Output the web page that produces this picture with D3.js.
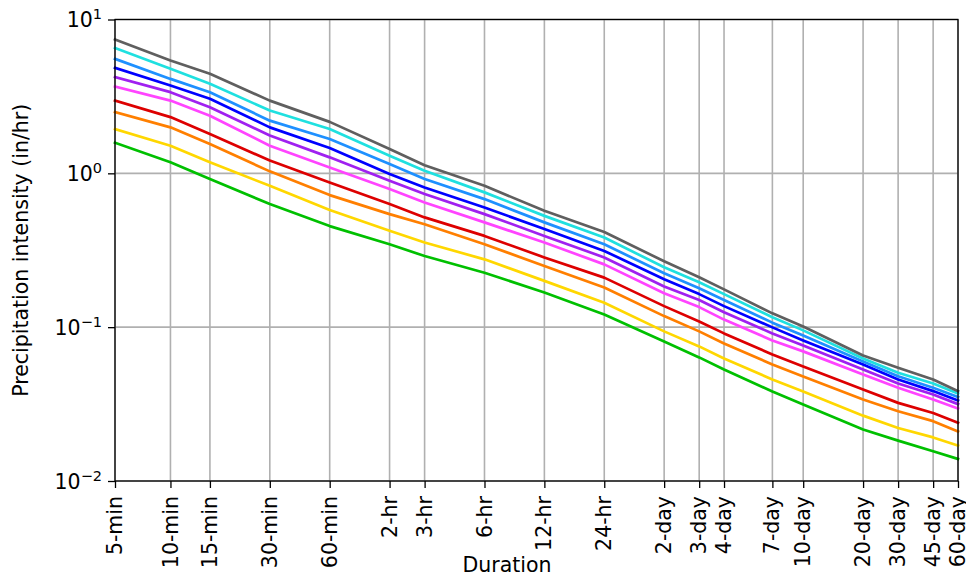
<!DOCTYPE html>
<html>
<head>
<meta charset="utf-8">
<script src="https://cdn.jsdelivr.net/npm/d3@7"></script>
<style>
  body { margin: 0; background: #fff; }
  svg text { font-family: "DejaVu Sans", sans-serif; fill: #000; }
</style>
</head>
<body>
<div id="chart"></div>
<script>
// durations (minutes) and their tick labels
var durations = [5, 9.5, 15, 30, 60, 120, 180, 360, 720, 1440, 2880, 4320, 5760, 10080, 14400, 28800, 43200, 64800, 86400];
var durLabels = ["5-min", "10-min", "15-min", "30-min", "60-min", "2-hr", "3-hr", "6-hr", "12-hr", "24-hr",
	"2-day", "3-day", "4-day", "7-day", "10-day", "20-day", "30-day", "45-day", "60-day"];

// precipitation intensity (in/hr), one array per curve, lowest first
var ari1 = [1.58, 1.18, 0.918, 0.631, 0.454, 0.346, 0.290, 0.226, 0.168, 0.121, 0.0808, 0.0636, 0.0531, 0.0382, 0.0314, 0.0216, 0.0183, 0.0156, 0.0139];
var ari2 = [1.94, 1.51, 1.18, 0.830, 0.577, 0.423, 0.355, 0.276, 0.200, 0.144, 0.0939, 0.0750, 0.0626, 0.0457, 0.0382, 0.0266, 0.0221, 0.0192, 0.0170];
var ari5 = [2.50, 1.99, 1.55, 1.03, 0.722, 0.543, 0.467, 0.346, 0.250, 0.181, 0.118, 0.0939, 0.0784, 0.0572, 0.0478, 0.0339, 0.0284, 0.0245, 0.0210];
var ari10 = [2.97, 2.32, 1.80, 1.21, 0.871, 0.631, 0.517, 0.392, 0.284, 0.210, 0.137, 0.109, 0.0911, 0.0665, 0.0555, 0.0393, 0.0322, 0.0277, 0.0239];
var ari25 = [3.67, 2.97, 2.37, 1.51, 1.09, 0.790, 0.647, 0.480, 0.355, 0.256, 0.166, 0.135, 0.112, 0.0820, 0.0696, 0.0493, 0.0404, 0.0339, 0.0296];
var ari50 = [4.22, 3.37, 2.69, 1.76, 1.27, 0.895, 0.733, 0.543, 0.392, 0.284, 0.184, 0.150, 0.125, 0.0911, 0.0761, 0.0531, 0.0430, 0.0365, 0.0316];
var ari100 = [4.85, 3.72, 3.05, 1.99, 1.46, 0.990, 0.810, 0.600, 0.434, 0.313, 0.205, 0.164, 0.137, 0.0997, 0.0820, 0.0572, 0.0457, 0.0384, 0.0333];
var ari200 = [5.55, 4.11, 3.37, 2.20, 1.67, 1.15, 0.918, 0.680, 0.480, 0.346, 0.224, 0.179, 0.150, 0.107, 0.0884, 0.0599, 0.0480, 0.0404, 0.0351];
var ari500 = [6.52, 4.78, 3.82, 2.56, 1.94, 1.30, 1.04, 0.752, 0.529, 0.383, 0.245, 0.196, 0.164, 0.116, 0.0953, 0.0626, 0.0505, 0.0430, 0.0370];
var ari1000 = [7.42, 5.41, 4.44, 2.97, 2.16, 1.44, 1.13, 0.830, 0.571, 0.416, 0.268, 0.211, 0.176, 0.123, 0.101, 0.0655, 0.0545, 0.0457, 0.0384];

var seriesList = [ari1, ari2, ari5, ari10, ari25, ari50, ari100, ari200, ari500, ari1000];
var colors = ["#00c000", "#ffd700", "#ff7f00", "#dd0000", "#ff44ff", "#a020f0", "#0000ff", "#1e90ff", "#1fe0e0", "#5f5f5f"];

var yTicks = [0.01, 0.1, 1, 10];

var svgWidth = 966;
var svgHeight = 582;
var margin = { top: 19.5, right: 8, bottom: 101, left: 115 };
var width = svgWidth - margin.left - margin.right;
var height = svgHeight - margin.top - margin.bottom;

var svg = d3.select("#chart")
	.append("svg")
	.attr("width", svgWidth)
	.attr("height", svgHeight);

var chartGroup = svg.append("g")
	.attr("transform", `translate(${margin.left}, ${margin.top})`);

var xScale = d3.scaleLog()
	.domain([5, 86400])
	.range([0, width]);

var yScale = d3.scaleLog()
	.domain([0.01, 10])
	.range([height, 0]);

// grid
chartGroup.append("g")
	.selectAll("line.vgrid")
	.data(durations)
	.enter()
	.append("line")
	.attr("x1", d => xScale(d))
	.attr("x2", d => xScale(d))
	.attr("y1", 0)
	.attr("y2", height)
	.attr("stroke", "#b0b0b0")
	.attr("stroke-width", 1.6);

chartGroup.append("g")
	.selectAll("line.hgrid")
	.data(yTicks)
	.enter()
	.append("line")
	.attr("x1", 0)
	.attr("x2", width)
	.attr("y1", d => yScale(d))
	.attr("y2", d => yScale(d))
	.attr("stroke", "#b0b0b0")
	.attr("stroke-width", 1.6);

// curves
var line = d3.line()
	.x((d, i) => xScale(durations[i]))
	.y(d => yScale(d));

seriesList.forEach(function (vals, k) {
	chartGroup.append("path")
		.datum(vals)
		.attr("d", line)
		.attr("fill", "none")
		.attr("stroke", colors[k])
		.attr("stroke-width", 2.7)
		.attr("stroke-linejoin", "round")
		.attr("stroke-linecap", "square");
});

// frame
chartGroup.append("rect")
	.attr("width", width)
	.attr("height", height)
	.attr("fill", "none")
	.attr("stroke", "#000")
	.attr("stroke-width", 1.3);

// x axis
var xAxis = chartGroup.append("g")
	.attr("transform", `translate(0, ${height})`)
	.call(d3.axisBottom(xScale)
		.tickValues(durations)
		.tickFormat((d, i) => durLabels[i])
		.tickSize(7)
		.tickPadding(5));

xAxis.select(".domain").remove();
xAxis.selectAll(".tick line").attr("stroke", "#000").attr("stroke-width", 1.3);
xAxis.selectAll(".tick text")
	.attr("font-size", 20.5)
	.attr("font-family", "DejaVu Sans")
	.attr("transform", "rotate(-90)")
	.attr("text-anchor", "end")
	.attr("x", -15)
	.attr("y", 0)
	.attr("dy", "0.32em");

// y axis
var yAxis = chartGroup.append("g")
	.call(d3.axisLeft(yScale)
		.tickValues(yTicks)
		.tickFormat("")
		.tickSize(7));

yAxis.select(".domain").remove();
yAxis.selectAll(".tick line").attr("stroke", "#000").attr("stroke-width", 1.3);

var yLabels = yAxis.selectAll(".tick")
	.append("text")
	.attr("x", -13)
	.attr("y", 0)
	.attr("dy", "0.35em")
	.attr("text-anchor", "end")
	.attr("font-size", 20.5);

yLabels.append("tspan").text("10");
yLabels.append("tspan")
	.attr("dy", "-0.55em")
	.attr("font-size", 14.5)
	.text(d => Math.round(Math.log10(d)) < 0 ? "\u2212" + Math.abs(Math.round(Math.log10(d))) : Math.round(Math.log10(d)));

// axis titles
svg.append("text")
	.attr("x", 507)
	.attr("y", 572)
	.attr("text-anchor", "middle")
	.attr("font-size", 20.5)
	.text("Duration");

svg.append("text")
	.attr("transform", `translate(28, ${margin.top + height / 2}) rotate(-90)`)
	.attr("text-anchor", "middle")
	.attr("font-size", 20.5)
	.text("Precipitation intensity (in/hr)");
</script>
</body>
</html>
